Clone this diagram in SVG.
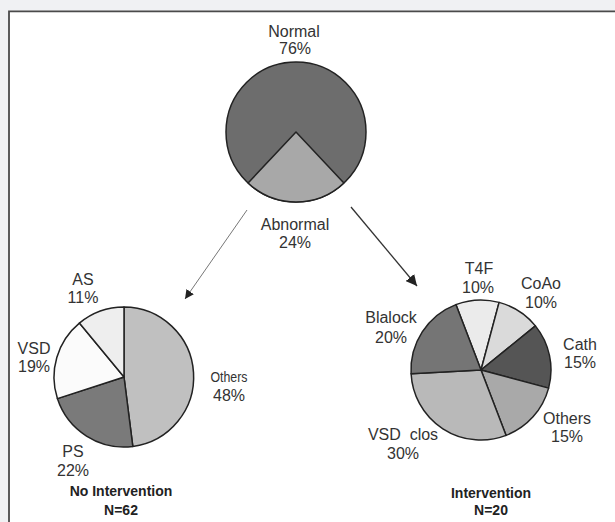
<svg xmlns="http://www.w3.org/2000/svg" width="615" height="522" viewBox="0 0 615 522">
<defs>
<style>
.t{font-family:"Liberation Sans",Arial,sans-serif;font-size:16px;fill:#333;text-anchor:middle}
.s{font-size:14px}
.b{font-weight:bold;font-size:14px;fill:#222}
.pie path,.pie circle{stroke:#222;stroke-width:1.5;stroke-linejoin:round}
</style>
<marker id="ah" viewBox="0 0 10 10" refX="10" refY="5" markerWidth="9" markerHeight="9" markerUnits="userSpaceOnUse" orient="auto"><path d="M0,0 L10,5 L0,10 Z" fill="#222"/></marker>
<marker id="ah2" viewBox="0 0 10 10" refX="10" refY="5" markerWidth="11" markerHeight="11" markerUnits="userSpaceOnUse" orient="auto"><path d="M0,0 L10,5 L0,10 Z" fill="#222"/></marker>
</defs>
<rect x="0" y="0" width="615" height="522" fill="#f0f1f3"/>
<rect x="9" y="11" width="606" height="511" fill="#fff"/>
<path d="M9,522 V11.3 H615" fill="none" stroke="#4a4a4a" stroke-width="1.8"/>

<g id="top-pie" class="pie">
<circle cx="296" cy="132" r="70" fill="#6d6d6d"/>
<path d="M296,132 L343.9,183 A70,70 0 0 1 248.1,183 Z" fill="#a8a8a8"/>
<text class="t" x="294" y="37" stroke="none">Normal</text>
<text class="t" x="295" y="54" stroke="none">76%</text>
<text class="t" x="295" y="230" stroke="none">Abnormal</text>
<text class="t" x="295" y="248" stroke="none">24%</text>
</g>

<g id="no-intervention" class="pie">
<path d="M124,377 L124,307 A70,70 0 0 1 132.8,446.4 Z" fill="#c0c0c0"/>
<path d="M124,377 L132.8,446.4 A70,70 0 0 1 57.4,398.6 Z" fill="#7a7a7a"/>
<path d="M124,377 L57.4,398.6 A70,70 0 0 1 79.4,323.1 Z" fill="#fbfbfb"/>
<path d="M124,377 L79.4,323.1 A70,70 0 0 1 124,307 Z" fill="#eeeeee"/>
<text class="t" x="83" y="285">AS</text>
<text class="t" x="83" y="303">11%</text>
<text class="t" x="34" y="354">VSD</text>
<text class="t" x="34" y="372">19%</text>
<text class="t s" x="229" y="382" textLength="37" lengthAdjust="spacingAndGlyphs">Others</text>
<text class="t" x="229" y="401">48%</text>
<text class="t" x="73" y="457">PS</text>
<text class="t" x="73" y="476">22%</text>
<text class="t b" x="121" y="496">No Intervention</text>
<text class="t b" x="121" y="515">N=62</text>
</g>

<g id="intervention" class="pie">
<path d="M481,370 L455.9,304.6 A70,70 0 0 1 499.1,302.4 Z" fill="#ebebeb"/>
<path d="M481,370 L499.1,302.4 A70,70 0 0 1 535.4,325.9 Z" fill="#dadada"/>
<path d="M481,370 L535.4,325.9 A70,70 0 0 1 548.6,388.1 Z" fill="#555555"/>
<path d="M481,370 L548.6,388.1 A70,70 0 0 1 506.1,435.4 Z" fill="#a9a9a9"/>
<path d="M481,370 L506.1,435.4 A70,70 0 0 1 411.1,373.7 Z" fill="#b9b9b9"/>
<path d="M481,370 L411.1,373.7 A70,70 0 0 1 455.9,304.6 Z" fill="#757575"/>
<text class="t" x="479" y="274">T4F</text>
<text class="t" x="478" y="293">10%</text>
<text class="t" x="541" y="289">CoAo</text>
<text class="t" x="541" y="308">10%</text>
<text class="t" x="391" y="323">Blalock</text>
<text class="t" x="391" y="343">20%</text>
<text class="t" x="580" y="350">Cath</text>
<text class="t" x="580" y="368">15%</text>
<text class="t" x="567" y="424">Others</text>
<text class="t" x="567" y="442">15%</text>
<text class="t" x="403" y="440" xml:space="preserve">VSD  clos</text>
<text class="t" x="403" y="459">30%</text>
<text class="t b" x="491" y="498">Intervention</text>
<text class="t b" x="491" y="515">N=20</text>
</g>

<g id="connectors" fill="none">
<line x1="247" y1="210" x2="185" y2="299" stroke="#777" stroke-width="1" marker-end="url(#ah)"/>
<line x1="351" y1="207" x2="417" y2="286" stroke="#333" stroke-width="1.3" marker-end="url(#ah2)"/>
</g>
</svg>
